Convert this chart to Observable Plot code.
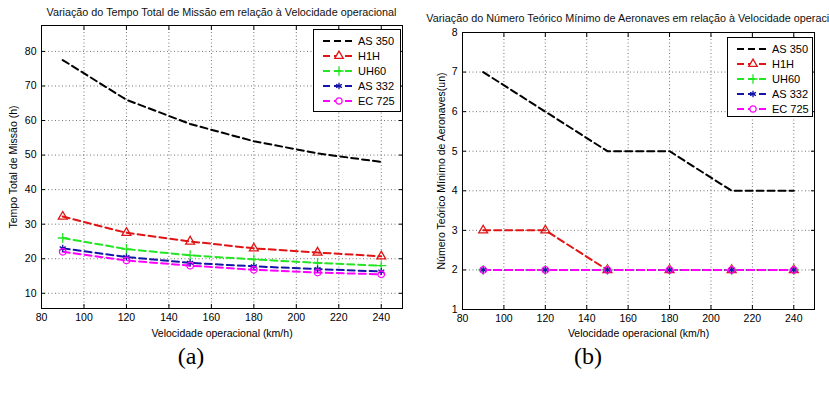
<!DOCTYPE html>
<html><head><meta charset="utf-8">
<script src="https://cdn.jsdelivr.net/npm/d3@7"></script>
<script src="https://cdn.jsdelivr.net/npm/@observablehq/plot@0.6"></script>
<style>
html,body{margin:0;padding:0;background:#fff;overflow:hidden;}
#root{position:relative;width:829px;height:394px;overflow:hidden;font-family:"Liberation Sans",Arial,sans-serif;}
.panel{position:absolute;top:0;}
.title{position:absolute;white-space:nowrap;font-size:10.8px;transform:translate(-50%,-50%);color:#111;}
.sub{position:absolute;font-family:"Liberation Serif","Times New Roman",serif;font-size:24px;transform:translate(-50%,-50%);color:#000;}
.legend{position:absolute;border:1px solid #000;background:#fff;box-sizing:border-box;}
.legend .row{display:flex;align-items:center;height:15px;font-size:11px;color:#000;}
.legend svg{display:block;margin-left:8px;margin-right:2px;}
</style></head><body><div id="root"></div><script>
// ---- data ----
const speeds = [90, 120, 150, 180, 210, 240];
const series = ["AS 350", "H1H", "UH60", "AS 332", "EC 725"];
const seriesColors = ["#000000", "#e01414", "#22e622", "#1414a8", "#ff00ff"];
const seriesSymbols = ["triangle", "plus", "asterisk", "circle"]; // for H1H, UH60, AS 332, EC 725
const tempoAS350 = [77.5, 66, 59, 54, 50.5, 48];
const tempoH1H = [32.2, 27.5, 25, 23, 21.8, 20.7];
const tempoUH60 = [26, 22.8, 21, 19.8, 18.8, 18];
const tempoAS332 = [23, 20.5, 18.8, 17.8, 17, 16.3];
const tempoEC725 = [22, 19.5, 18, 16.8, 16, 15.5];
const numAS350 = [7, 6, 5, 5, 4, 4];
const numH1H = [3, 3, 2, 2, 2, 2];
const numUH60 = [2, 2, 2, 2, 2, 2];
const numAS332 = [2, 2, 2, 2, 2, 2];
const numEC725 = [2, 2, 2, 2, 2, 2];
const xTicks = [80, 100, 120, 140, 160, 180, 200, 220, 240];
const yTicksA = [10, 20, 30, 40, 50, 60, 70, 80];
const yTicksB = [1, 2, 3, 4, 5, 6, 7, 8];
const titleA = "Variação do Tempo Total de Missão em relação à Velocidade operacional";
const titleB = "Variação do Número Teórico Mínimo de Aeronaves em relação à Velocidade operacional";
const xLabel = "Velocidade operacional (km/h)";
const yLabelA = "Tempo Total de Missão (h)";
const yLabelB = "Número Teórico Mínimo de Aeronaves(un)";

function table(arrays) {
  const rows = [];
  arrays.forEach((vals, i) => vals.forEach((v, j) => rows.push({serie: series[i], x: speeds[j], y: v})));
  return rows;
}
const rowsA = table([tempoAS350, tempoH1H, tempoUH60, tempoAS332, tempoEC725]);
const rowsB = table([numAS350, numH1H, numUH60, numAS332, numEC725]);

const root = document.getElementById("root");

function panel({rows, yDomain, yTicks, yLabel, left, width, mL, mR, mT, mB, yLabelOffset, xLabelOffset}) {
  const grid = {stroke: "#000", strokeOpacity: 0.55, strokeDasharray: "1,2.5", strokeWidth: 1};
  const tickOpts = {tickSize: -4, fill: "none", label: null, stroke: "#000"};
  const chart = Plot.plot({
    width, height: 394,
    marginLeft: mL, marginRight: mR, marginTop: mT, marginBottom: mB,
    style: {fontFamily: '"Liberation Sans", Arial, sans-serif', fontSize: "10.5px", color: "#000", background: "transparent", overflow: "visible"},
    x: {domain: [80, 250]},
    y: {domain: yDomain},
    color: {domain: series, range: seriesColors},
    symbol: {domain: series.slice(1), range: seriesSymbols},
    marks: [
      Plot.frame({fill: "#fff", stroke: null}),
      Plot.gridX(xTicks, grid),
      Plot.gridY(yTicks, grid),
      Plot.axisX(xTicks, {...tickOpts, anchor: "bottom"}),
      Plot.axisX(xTicks, {...tickOpts, anchor: "top"}),
      Plot.axisY(yTicks, {...tickOpts, anchor: "left"}),
      Plot.axisY(yTicks, {...tickOpts, anchor: "right"}),
      Plot.axisX(xTicks, {anchor: "bottom", tickSize: 0, tickPadding: 5, fontSize: 10.5, label: xLabel, labelAnchor: "center", labelArrow: "none", labelOffset: xLabelOffset}),
      Plot.axisY(yTicks, {anchor: "left", tickSize: 0, tickPadding: 5, fontSize: 10.5, label: yLabel, labelAnchor: "center", labelArrow: "none", labelOffset: yLabelOffset}),
      Plot.line(rows, {x: "x", y: "y", z: "serie", stroke: "serie", strokeWidth: 2, strokeDasharray: "7,4"}),
      Plot.dot(rows.filter(d => d.serie !== "AS 350"), {x: "x", y: "y", stroke: "serie", symbol: "serie", r: 3.3, strokeWidth: 1.3, fill: "none"}),
      Plot.frame({stroke: "#000", strokeWidth: 1})
    ]
  });
  chart.classList.add("panel");
  chart.style.left = left + "px";
  root.appendChild(chart);
}

panel({rows: rowsA, yDomain: [5.6, 87.5], yTicks: yTicksA, yLabel: yLabelA, left: 0, width: 415, mL: 41, mR: 13, mT: 25, mB: 86, yLabelOffset: 32, xLabelOffset: 28});
panel({rows: rowsB, yDomain: [1, 8], yTicks: yTicksB, yLabel: yLabelB, left: 415, width: 414, mL: 47, mR: 15, mT: 32, mB: 85, yLabelOffset: 25, xLabelOffset: 27});

function addText(cls, txt, x, y) {
  const d = document.createElement("div");
  d.className = cls; d.textContent = txt;
  d.style.left = x + "px"; d.style.top = y + "px";
  root.appendChild(d);
}
addText("title", titleA, 221.5, 12);
addText("title", titleB, 638, 18);
addText("sub", "(a)", 191, 356);
addText("sub", "(b)", 588, 356);

function legend(x, y, w, h) {
  const box = document.createElement("div");
  box.className = "legend";
  Object.assign(box.style, {left: x + "px", top: y + "px", width: w + "px", height: h + "px", paddingTop: "3px"});
  series.forEach((s, i) => {
    const row = document.createElement("div");
    row.className = "row";
    const svg = d3.create("svg").attr("width", 34).attr("height", 12);
    svg.append("line").attr("x1", 0).attr("x2", 34).attr("y1", 6).attr("y2", 6)
      .attr("stroke", seriesColors[i]).attr("stroke-width", 2).attr("stroke-dasharray", "7,4").attr("stroke-dashoffset", -1);
    if (i > 0) {
      const typeMap = {triangle: d3.symbolTriangle, plus: d3.symbolPlus, asterisk: d3.symbolAsterisk, circle: d3.symbolCircle};
      svg.append("path").attr("transform", "translate(17,6)")
        .attr("d", d3.symbol(typeMap[seriesSymbols[i - 1]], Math.PI * 10)())
        .attr("fill", "#fff").attr("stroke", seriesColors[i]).attr("stroke-width", 1.3);
    }
    row.appendChild(svg.node());
    const t = document.createElement("span");
    t.textContent = s;
    row.appendChild(t);
    box.appendChild(row);
  });
  root.appendChild(box);
}
legend(313, 29, 88, 83);
legend(727, 37, 86, 80);
</script></body></html>
